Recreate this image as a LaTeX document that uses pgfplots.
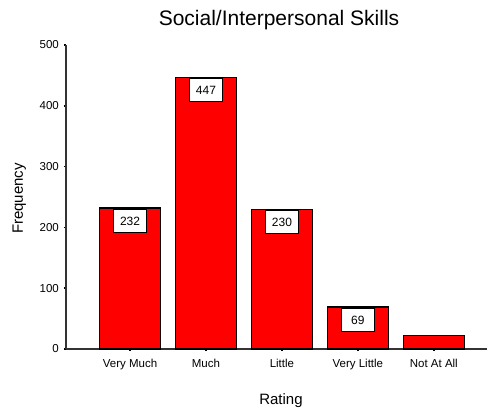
\documentclass[border=0pt]{standalone}
\usepackage{fontspec}
\setmainfont{Liberation Sans}
\usepackage{pgfplots}
\pgfplotsset{compat=1.18}
\begin{document}
\begin{tikzpicture}[x=1pt,y=1pt]
\useasboundingbox (-66,-61) rectangle (421,349);
\begin{axis}[
  at={(0pt,0pt)}, anchor=south west,
  scale only axis, width=421pt, height=304pt,
  xmin=-0.843, xmax=4.70, ymin=0, ymax=500,
  axis x line*=bottom, axis y line*=left,
  axis line style={line width=1.2pt, black!80},
  xtick={0,1,2,3,4},
  xticklabels={Very Much, Much, Little, Very Little, Not At All},
  ytick={0,100,200,300,400,500},
  tick align=outside, major tick length=2pt,
  tick style={line width=1.6pt, black},
  /pgf/number format/assume math mode=true,
  tick label style={font=\fontsize{11.5}{13}\selectfont, inner sep=0pt},
  yticklabel style={anchor=east, xshift=-5pt},
  xticklabel style={anchor=base, yshift=-16pt},
  ybar, bar width=0.8, bar shift=0pt,
  clip=false,
]
\addplot[fill=red, draw=black, line width=1.2pt,
  nodes near coords,
  every node near coord/.append style={anchor=north, yshift=-1pt,
    fill=white, draw=black, line width=0.9pt, inner sep=0pt,
    minimum width=33pt, minimum height=23pt,
    font=\fontsize{12}{14}\selectfont, text=black},
] coordinates {(0,232) (1,447) (2,230) (3,69)};
\addplot[fill=red, draw=black, line width=1.2pt] coordinates {(4,22)};
\end{axis}
\node[anchor=base, font=\fontsize{21}{25}\selectfont] at (213,323.3) {Social/Interpersonal Skills};
\node[anchor=base, rotate=90, font=\fontsize{15}{18}\selectfont] at (-43.2,150.5) {Frequency};
\node[anchor=base, font=\fontsize{15}{18}\selectfont] at (215,-55) {Rating};
\end{tikzpicture}
\end{document}
